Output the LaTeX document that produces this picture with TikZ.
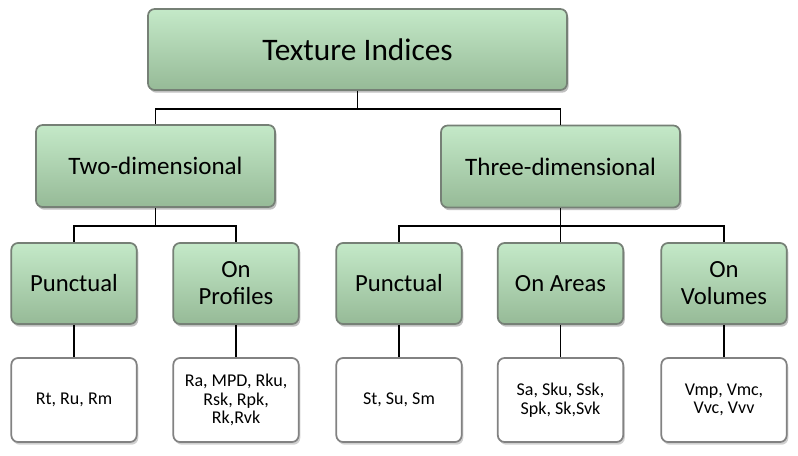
\documentclass[tikz,border=0pt]{standalone}
\usepackage{fontspec}
\setmainfont{Carlito}
\usetikzlibrary{shadows}
\definecolor{gtop}{RGB}{196,233,200}
\definecolor{gbot}{RGB}{150,186,151}
\definecolor{gedge}{RGB}{118,128,118}
\definecolor{wedge}{RGB}{130,130,130}
\begin{document}
\begin{tikzpicture}[x=0.75pt,y=-0.75pt,
  gbox/.style={draw=gedge, line width=1.3pt, rounded corners=5pt,
    top color=gtop, bottom color=gbot, inner sep=0pt, align=center,
    drop shadow={shadow xshift=1.2pt, shadow yshift=-2pt, opacity=0.35, fill=black!70}},
  wbox/.style={draw=wedge, line width=1.3pt, rounded corners=5pt, fill=white,
    inner sep=0pt, align=center, minimum width=94pt, minimum height=63pt,
    font=\fontsize{13.5}{14}\selectfont,
    drop shadow={shadow xshift=1.2pt, shadow yshift=-2pt, opacity=0.3, fill=black!60}},
  lvlthree/.style={gbox, minimum width=94pt, minimum height=60.75pt,
    font=\fontsize{18.5}{20.3}\selectfont},
  lvltwo/.style={gbox, minimum width=179.25pt, minimum height=61.5pt,
    font=\fontsize{18.8}{22}\selectfont},
  link/.style={draw=black, line width=1.4pt}]
\useasboundingbox[fill=white] (0,0) rectangle (798,455);
\node[gbox, minimum width=314.25pt, minimum height=60.75pt,
  font=\fontsize{23.5}{26}\selectfont] (top) at (357.5,49.5) {Texture Indices};
\node[lvltwo] (two) at (155.5,166) {Two-dimensional};
\node[lvltwo] (three) at (560.5,166.5) {Three-dimensional};
\node[lvlthree] (p1) at (74,283.5) {Punctual};
\node[lvlthree] (p2) at (236,283.5) {On\\Profiles};
\node[lvlthree] (p3) at (399,283.5) {Punctual};
\node[lvlthree] (p4) at (560.5,283.5) {On Areas};
\node[lvlthree] (p5) at (724,283.5) {On\\Volumes};
\node[wbox] (b1) at (74,400) {Rt, Ru, Rm};
\node[wbox] (b2) at (236,400) {Ra, MPD, Rku,\\Rsk, Rpk,\\Rk,Rvk};
\node[wbox] (b3) at (399,400) {St, Su, Sm};
\node[wbox] (b4) at (560.5,400) {Sa, Sku, Ssk,\\Spk, Sk,Svk};
\node[wbox] (b5) at (724,400) {Vmp, Vmc,\\Vvc, Vvv};
\draw[link] (top.south) -- ++(0,18) -| (two.north);
\draw[link] (top.south) ++(0,18) -| (three.north);
\draw[link] (two.south) -- ++(0,18) -| (p1.north);
\draw[link] (two.south) ++(0,18) -| (p2.north);
\draw[link] (three.south) -- ++(0,18) -| (p3.north);
\draw[link] (three.south) ++(0,18) -| (p5.north);
\draw[link] (three.south) -- (p4.north);
\foreach \i in {1,...,5} {\draw[link] (p\i.south) -- (b\i.north);}
\end{tikzpicture}
\end{document}
